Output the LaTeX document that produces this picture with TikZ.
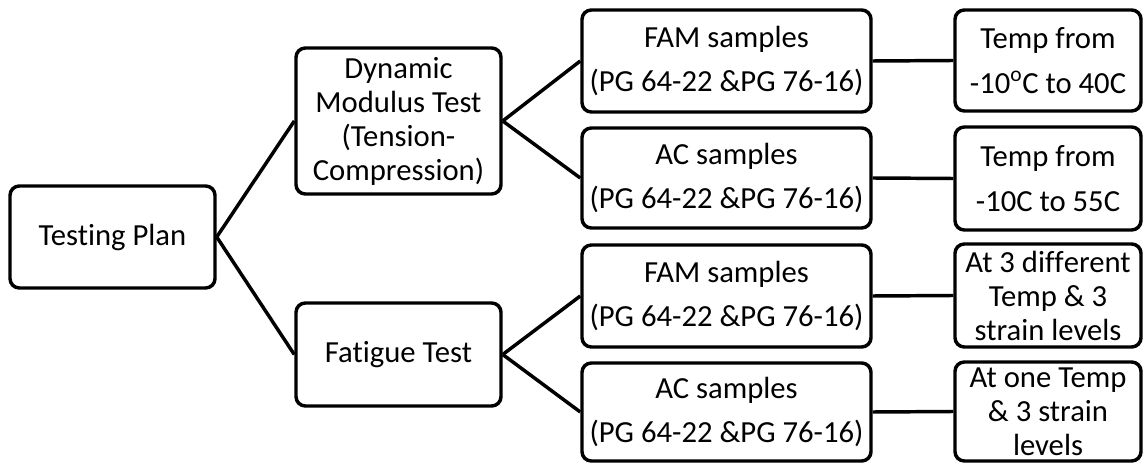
\documentclass[tikz,border=0pt]{standalone}
\usepackage{fontspec}
\setmainfont{Carlito}[Ligatures=NoCommon]
\begin{document}
\begin{tikzpicture}[x=0.75pt,y=-0.75pt,
  box/.style={draw,line width=2.6pt,rounded corners=7pt,align=center,inner sep=0pt,
    font=\fontsize{23}{25.5}\selectfont},
  link/.style={line width=2.6pt}]
\useasboundingbox (0,0) rectangle (1143,463);
% first level
\node[box,minimum width=153.75pt,minimum height=76.5pt] (tp) at (112.5,237) {Test\kern0pt ing Plan};
% second level
\node[box,minimum width=153.75pt,minimum height=109.5pt] (dyn) at (398.5,121)
  {Dynamic\\Modulus Test\\(Tension-\\Compression)};
\node[box,minimum width=153.75pt,minimum height=77.25pt] (fat) at (398.5,354.5) {Fat\kern0pt igue Test};
% third level
\node[box,minimum width=216.75pt,minimum height=76.5pt] (fam1) at (726.5,61)
  {FAM samples\\[8pt](PG 64-22 \&PG 76-16)};
\node[box,minimum width=216.75pt,minimum height=75pt] (ac1) at (726.5,178)
  {AC samples\\[8pt](PG 64-22 \&PG 76-16)};
\node[box,minimum width=216.75pt,minimum height=76.5pt] (fam2) at (726.5,296)
  {FAM samples\\[8pt](PG 64-22 \&PG 76-16)};
\node[box,minimum width=216.75pt,minimum height=73.5pt] (ac2) at (726.5,412)
  {AC samples\\[8pt](PG 64-22 \&PG 76-16)};
% fourth level
\node[box,minimum width=139.5pt,minimum height=75.75pt] (r1) at (1048,60.5)
  {Temp from\\[8pt]-10\textsuperscript{o}C to 40C};
\node[box,minimum width=139.5pt,minimum height=77.25pt] (r2) at (1048,178.5)
  {Temp from\\[8pt]-10C to 55C};
\node[box,minimum width=139.5pt,minimum height=77.25pt] (r3) at (1048,295.5)
  {At 3 dif\kern0pt f\kern0pt erent\\Temp \& 3\\strain levels};
\node[box,minimum width=139.5pt,minimum height=74.25pt] (r4) at (1048,411.5)
  {At one Temp\\\& 3 strain\\levels};
% connectors
\draw[link] (tp.east) -- (dyn.west);
\draw[link] (tp.east) -- (fat.west);
\draw[link] (dyn.east) -- (fam1.west);
\draw[link] (dyn.east) -- (ac1.west);
\draw[link] (fat.east) -- (fam2.west);
\draw[link] (fat.east) -- (ac2.west);
\draw[link] (fam1.east) -- (r1.west);
\draw[link] (ac1.east) -- (r2.west);
\draw[link] (fam2.east) -- (r3.west);
\draw[link] (ac2.east) -- (r4.west);
\end{tikzpicture}
\end{document}
